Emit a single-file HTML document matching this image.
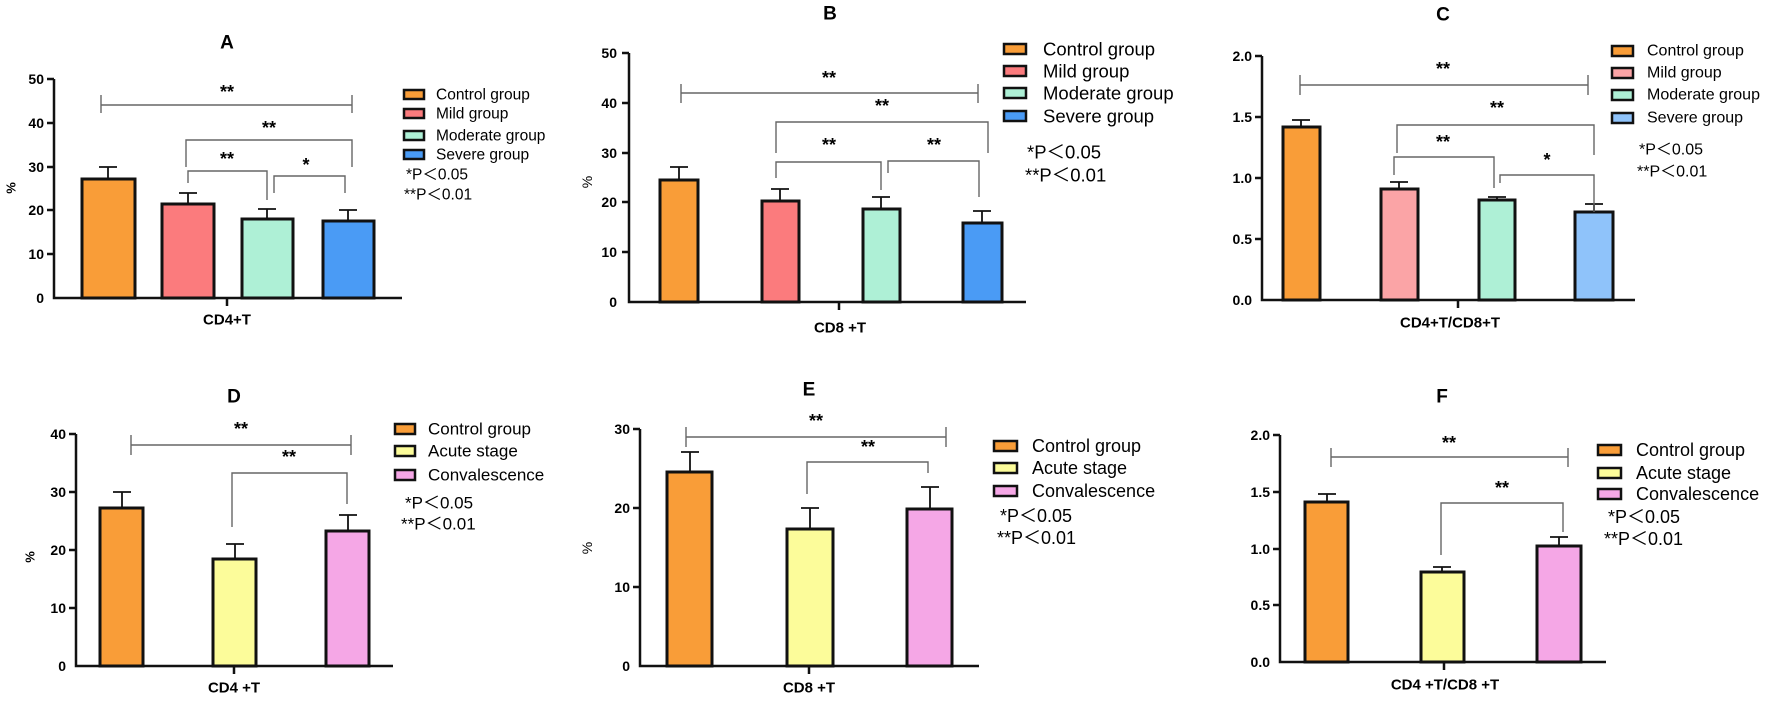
<!DOCTYPE html>
<html><head><meta charset="utf-8"><style>
body{margin:0;background:#fff}
svg text{font-family:"Liberation Sans",Arial,sans-serif}
.t{font-size:14px;font-weight:bold;text-anchor:end;dominant-baseline:central}
.ttl{font-size:19px;font-weight:bold;text-anchor:middle;dominant-baseline:central}
.xl{font-size:15px;font-weight:bold;text-anchor:middle;dominant-baseline:central}
.lg text{dominant-baseline:central}
.st{font-size:18px;font-weight:bold;text-anchor:middle;dominant-baseline:central}
.ax{stroke:#111;stroke-width:2.5;fill:none}
.eb{stroke:#111;stroke-width:1.8;fill:none}
.br{stroke:#666;stroke-width:1.4;fill:none}
.bar{stroke:#111;stroke-width:3}
.sq{stroke:#111;stroke-width:2.5}
</style></head><body>
<svg width="1772" height="698" viewBox="0 0 1772 698" xmlns="http://www.w3.org/2000/svg">

<!-- Panel A -->
<text class="ttl" x="227" y="43">A</text>
<path class="ax" d="M54,79 V298 H402"/>
<g class="t"><text x="44" y="79">50</text><text x="44" y="123">40</text><text x="44" y="167">30</text><text x="44" y="210">20</text><text x="44" y="254">10</text><text x="44" y="298">0</text></g>
<path class="ax" d="M47,79H54M47,123H54M47,167H54M47,210H54M47,254H54M227,298V306"/>
<text x="11" y="188" font-size="13" font-weight="bold" text-anchor="middle" transform="rotate(-90 11 188)" dominant-baseline="central">%</text>
<rect class="bar" x="82" y="179" width="53" height="119" fill="#f99d38"/>
<rect class="bar" x="162" y="204" width="52" height="94" fill="#fb7b7d"/>
<rect class="bar" x="242" y="219" width="51" height="79" fill="#aef0d6"/>
<rect class="bar" x="323" y="221" width="51" height="77" fill="#4a9bf5"/>
<path class="eb" d="M108,179V167M99,167H117M188,204V193M179,193H197M267,219V209M258,209H276M348,221V210M339,210H357"/>
<path class="br" d="M101,105H352M101,95V113M352,95V113M186,167V140H352V167M188,183V171H267V200M274,193V176H345V193"/>
<g class="st"><text x="227" y="92">**</text><text x="269" y="128">**</text><text x="227" y="159">**</text><text x="306" y="165">*</text></g>
<text class="xl" x="227" y="320">CD4+T</text>
<g class="lg" font-size="15.5"><rect class="sq" x="404" y="90" width="20" height="9" fill="#f99d38"/><text x="436" y="95">Control group</text>
<rect class="sq" x="404" y="109" width="20" height="9" fill="#fb7b7d"/><text x="436" y="114">Mild group</text>
<rect class="sq" x="404" y="131" width="20" height="9" fill="#aef0d6"/><text x="436" y="136">Moderate group</text>
<rect class="sq" x="404" y="150" width="20" height="9" fill="#4a9bf5"/><text x="436" y="155">Severe group</text>
<text x="406" y="175">*P＜0.05</text><text x="404" y="195">**P＜0.01</text></g>

<!-- Panel B -->
<text class="ttl" x="830" y="14">B</text>
<path class="ax" d="M629,53 V302 H1026"/>
<g class="t"><text x="617" y="53">50</text><text x="617" y="103">40</text><text x="617" y="153">30</text><text x="617" y="202">20</text><text x="617" y="252">10</text><text x="617" y="302">0</text></g>
<path class="ax" d="M622,53H629M622,103H629M622,153H629M622,202H629M622,252H629M839,302V310"/>
<text x="587" y="182" font-size="14" text-anchor="middle" transform="rotate(-90 587 182)" dominant-baseline="central">%</text>
<rect class="bar" x="660" y="180" width="38" height="122" fill="#f99d38"/>
<rect class="bar" x="762" y="201" width="37" height="101" fill="#fb7b7d"/>
<rect class="bar" x="863" y="209" width="37" height="93" fill="#aef0d6"/>
<rect class="bar" x="963" y="223" width="39" height="79" fill="#4a9bf5"/>
<path class="eb" d="M679,180V167M670,167H688M780,201V189M771,189H789M881,209V197M872,197H890M982,223V211M973,211H991"/>
<path class="br" d="M681,93H978M681,84V103M978,84V103M776,153V122H988V153M776,178V162H881V190M888,173V161H979V197"/>
<g class="st"><text x="829" y="78">**</text><text x="882" y="106">**</text><text x="829" y="145">**</text><text x="934" y="145">**</text></g>
<text class="xl" x="840" y="328" font-size="16">CD8 +T</text>
<g class="lg" font-size="18.5"><rect class="sq" x="1004" y="44" width="22" height="10" fill="#f99d38"/><text x="1043" y="49">Control group</text>
<rect class="sq" x="1004" y="66" width="22" height="10" fill="#fb7b7d"/><text x="1043" y="71">Mild group</text>
<rect class="sq" x="1004" y="88" width="22" height="10" fill="#aef0d6"/><text x="1043" y="93">Moderate group</text>
<rect class="sq" x="1004" y="111" width="22" height="10" fill="#4a9bf5"/><text x="1043" y="116">Severe group</text>
<text x="1027" y="152">*P＜0.05</text><text x="1025" y="175">**P＜0.01</text></g>

<!-- Panel C -->
<text class="ttl" x="1443" y="15">C</text>
<path class="ax" d="M1262,56 V300 H1635"/>
<g class="t"><text x="1252" y="56">2.0</text><text x="1252" y="117">1.5</text><text x="1252" y="178">1.0</text><text x="1252" y="239">0.5</text><text x="1252" y="300">0.0</text></g>
<path class="ax" d="M1255,56H1262M1255,117H1262M1255,178H1262M1255,239H1262M1458,300V308"/>
<rect class="bar" x="1283" y="127" width="37" height="173" fill="#f99d38"/>
<rect class="bar" x="1381" y="189" width="37" height="111" fill="#fba4a6"/>
<rect class="bar" x="1479" y="200" width="36" height="100" fill="#aef0d6"/>
<rect class="bar" x="1575" y="212" width="38" height="88" fill="#8fc3fa"/>
<path class="eb" d="M1301,127V120M1292,120H1310M1399,189V182M1390,182H1408M1497,200V197M1488,197H1506M1594,212V204M1585,204H1603"/>
<path class="br" d="M1300,85H1588M1300,75V95M1588,75V95M1397,153V125H1594V155M1394,175V157H1494V188M1500,183V175H1594V212"/>
<g class="st"><text x="1443" y="69">**</text><text x="1497" y="108">**</text><text x="1443" y="142">**</text><text x="1547" y="160">*</text></g>
<text class="xl" x="1450" y="323">CD4+T/CD8+T</text>
<g class="lg" font-size="16"><rect class="sq" x="1612" y="46" width="21" height="10" fill="#f99d38"/><text x="1647" y="51">Control group</text>
<rect class="sq" x="1612" y="68" width="21" height="10" fill="#fba4a6"/><text x="1647" y="73">Mild group</text>
<rect class="sq" x="1612" y="90" width="21" height="10" fill="#aef0d6"/><text x="1647" y="95">Moderate group</text>
<rect class="sq" x="1612" y="113" width="21" height="10" fill="#8fc3fa"/><text x="1647" y="118">Severe group</text>
<text x="1639" y="150">*P＜0.05</text><text x="1637" y="172">**P＜0.01</text></g>

<!-- Panel D -->
<text class="ttl" x="234" y="397">D</text>
<path class="ax" d="M76,434 V666 H393"/>
<g class="t"><text x="66" y="434">40</text><text x="66" y="492">30</text><text x="66" y="550">20</text><text x="66" y="608">10</text><text x="66" y="666">0</text></g>
<path class="ax" d="M69,434H76M69,492H76M69,550H76M69,608H76M234,666V674"/>
<text x="30" y="557" font-size="13" font-weight="bold" text-anchor="middle" transform="rotate(-90 30 557)" dominant-baseline="central">%</text>
<rect class="bar" x="100" y="508" width="43" height="158" fill="#f99d38"/>
<rect class="bar" x="213" y="559" width="43" height="107" fill="#fcfc9a"/>
<rect class="bar" x="326" y="531" width="43" height="135" fill="#f5a7e6"/>
<path class="eb" d="M122,508V492M113,492H131M235,559V544M226,544H244M348,531V515M339,515H357"/>
<path class="br" d="M131,445H351M131,435V455M351,435V455M232,527V473H347V504"/>
<g class="st"><text x="241" y="429">**</text><text x="289" y="457">**</text></g>
<text class="xl" x="234" y="688" font-size="16">CD4 +T</text>
<g class="lg" font-size="17"><rect class="sq" x="395" y="424" width="20" height="10" fill="#f99d38"/><text x="428" y="429">Control group</text>
<rect class="sq" x="395" y="446" width="20" height="10" fill="#fcfc9a"/><text x="428" y="451">Acute stage</text>
<rect class="sq" x="395" y="470" width="20" height="10" fill="#f5a7e6"/><text x="428" y="475">Convalescence</text>
<text x="405" y="503">*P＜0.05</text><text x="401" y="524">**P＜0.01</text></g>

<!-- Panel E -->
<text class="ttl" x="809" y="390">E</text>
<path class="ax" d="M640,429 V666 H979"/>
<g class="t"><text x="630" y="429">30</text><text x="630" y="508">20</text><text x="630" y="587">10</text><text x="630" y="666">0</text></g>
<path class="ax" d="M633,429H640M633,508H640M633,587H640M809,666V674"/>
<text x="587" y="548" font-size="14" text-anchor="middle" transform="rotate(-90 587 548)" dominant-baseline="central">%</text>
<rect class="bar" x="667" y="472" width="45" height="194" fill="#f99d38"/>
<rect class="bar" x="787" y="529" width="46" height="137" fill="#fcfc9a"/>
<rect class="bar" x="907" y="509" width="45" height="157" fill="#f5a7e6"/>
<path class="eb" d="M690,472V452M681,452H699M810,529V508M801,508H819M930,509V487M921,487H939"/>
<path class="br" d="M686,437H946M686,427V447M946,427V447M807,494V462H928V473"/>
<g class="st"><text x="816" y="421">**</text><text x="868" y="447">**</text></g>
<text class="xl" x="809" y="688" font-size="16">CD8 +T</text>
<g class="lg" font-size="18"><rect class="sq" x="994" y="441" width="23" height="10" fill="#f99d38"/><text x="1032" y="446">Control group</text>
<rect class="sq" x="994" y="463" width="23" height="10" fill="#fcfc9a"/><text x="1032" y="468">Acute stage</text>
<rect class="sq" x="994" y="486" width="23" height="10" fill="#f5a7e6"/><text x="1032" y="491">Convalescence</text>
<text x="1000" y="516">*P＜0.05</text><text x="997" y="538">**P＜0.01</text></g>

<!-- Panel F -->
<text class="ttl" x="1442" y="397">F</text>
<path class="ax" d="M1280,435 V662 H1606"/>
<g class="t"><text x="1270" y="435">2.0</text><text x="1270" y="492">1.5</text><text x="1270" y="549">1.0</text><text x="1270" y="605">0.5</text><text x="1270" y="662">0.0</text></g>
<path class="ax" d="M1273,435H1280M1273,492H1280M1273,549H1280M1273,605H1280M1444,662V670"/>
<rect class="bar" x="1305" y="502" width="43" height="160" fill="#f99d38"/>
<rect class="bar" x="1421" y="572" width="43" height="90" fill="#fcfc9a"/>
<rect class="bar" x="1537" y="546" width="44" height="116" fill="#f5a7e6"/>
<path class="eb" d="M1327,502V494M1318,494H1336M1442,572V567M1433,567H1451M1559,546V537M1550,537H1568"/>
<path class="br" d="M1331,457H1568M1331,448V467M1568,448V467M1441,555V503H1563V532"/>
<g class="st"><text x="1449" y="443">**</text><text x="1502" y="488">**</text></g>
<text class="xl" x="1445" y="685" font-size="16">CD4 +T/CD8 +T</text>
<g class="lg" font-size="18"><rect class="sq" x="1598" y="445" width="23" height="10" fill="#f99d38"/><text x="1636" y="450">Control group</text>
<rect class="sq" x="1598" y="468" width="23" height="10" fill="#fcfc9a"/><text x="1636" y="473">Acute stage</text>
<rect class="sq" x="1598" y="489" width="23" height="10" fill="#f5a7e6"/><text x="1636" y="494">Convalescence</text>
<text x="1608" y="517">*P＜0.05</text><text x="1604" y="539">**P＜0.01</text></g>
</svg>
</body></html>
